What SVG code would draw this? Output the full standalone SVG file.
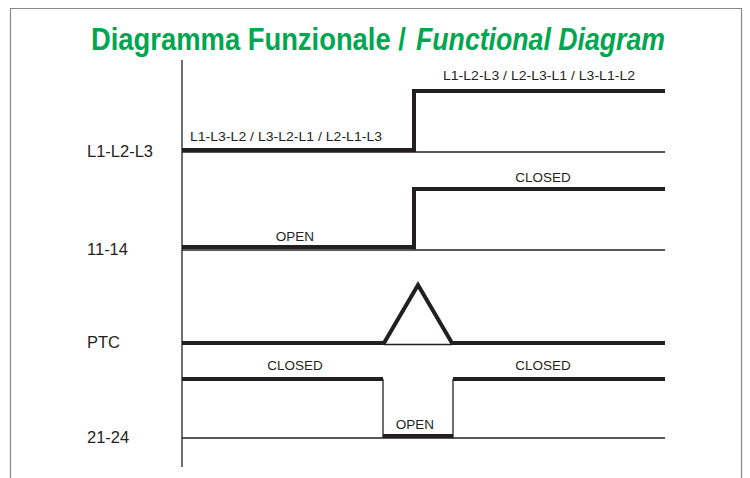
<svg xmlns="http://www.w3.org/2000/svg" width="750" height="478" viewBox="0 0 750 478">
<style>
.t{font-family:"Liberation Sans",Arial,sans-serif;fill:#231f20}
.lbl{font-size:16.5px}
.sm{font-size:13.5px}
.ttl{font-family:"Liberation Sans",Arial,sans-serif;font-weight:bold;font-size:32px;fill:#00a651}
.thin{stroke:#231f20;stroke-width:1.3;fill:none}
.thick{stroke:#231f20;stroke-width:4;fill:none;stroke-linejoin:miter}
</style>
<rect x="0" y="0" width="750" height="478" fill="#fff"/>
<path d="M10.5,478 V8.5 H741.5 V478" fill="none" stroke="#888" stroke-width="1.2"/>
<g id="title">
<text class="ttl" x="0" y="0" transform="translate(91,50) scale(0.856,1)">Diagramma Funzionale /</text>
<text class="ttl" x="0" y="0" font-style="italic" transform="translate(416,50) scale(0.834,1)">Functional Diagram</text>
</g>
<g id="axis"><line class="thin" x1="182" y1="60" x2="182" y2="467" stroke-width="1.6"/></g>
<g id="row1">
<text class="t lbl" x="87" y="157">L1-L2-L3</text>
<line class="thin" x1="182" y1="152" x2="665" y2="152"/>
<polyline class="thick" points="182,150 414,150 414,91 665,91"/>
<line class="thin" x1="414" y1="91" x2="414" y2="152"/>
<text class="t sm" x="190" y="141" textLength="192" lengthAdjust="spacingAndGlyphs">L1-L3-L2 / L3-L2-L1 / L2-L1-L3</text>
<text class="t sm" x="443" y="80" textLength="192" lengthAdjust="spacingAndGlyphs">L1-L2-L3 / L2-L3-L1 / L3-L1-L2</text>
</g>
<g id="row2">
<text class="t lbl" x="87" y="255">11-14</text>
<line class="thin" x1="182" y1="250" x2="665" y2="250"/>
<polyline class="thick" points="182,247 414,247 414,189 665,189"/>
<line class="thin" x1="414" y1="189" x2="414" y2="250"/>
<text class="t sm" x="295" y="241" text-anchor="middle">OPEN</text>
<text class="t sm" x="543" y="182" text-anchor="middle">CLOSED</text>
</g>
<g id="row3">
<text class="t lbl" x="87" y="348">PTC</text>
<line class="thin" x1="384" y1="344.5" x2="452" y2="344.5"/>
<polyline class="thick" points="182,343 384,343 418,285 452,343 665,343"/>
</g>
<g id="row4">
<text class="t lbl" x="87" y="443">21-24</text>
<line class="thin" x1="182" y1="438" x2="665" y2="438"/>
<polyline class="thick" points="182,379 383,379"/>
<polyline class="thick" points="383,436 453,436"/>
<polyline class="thick" points="453,379 665,379"/>
<line class="thin" x1="383" y1="379" x2="383" y2="438"/>
<line class="thin" x1="453" y1="379" x2="453" y2="438"/>
<text class="t sm" x="295" y="370" text-anchor="middle">CLOSED</text>
<text class="t sm" x="543" y="370" text-anchor="middle">CLOSED</text>
<text class="t sm" x="415" y="429" text-anchor="middle">OPEN</text>
</g>
</svg>
